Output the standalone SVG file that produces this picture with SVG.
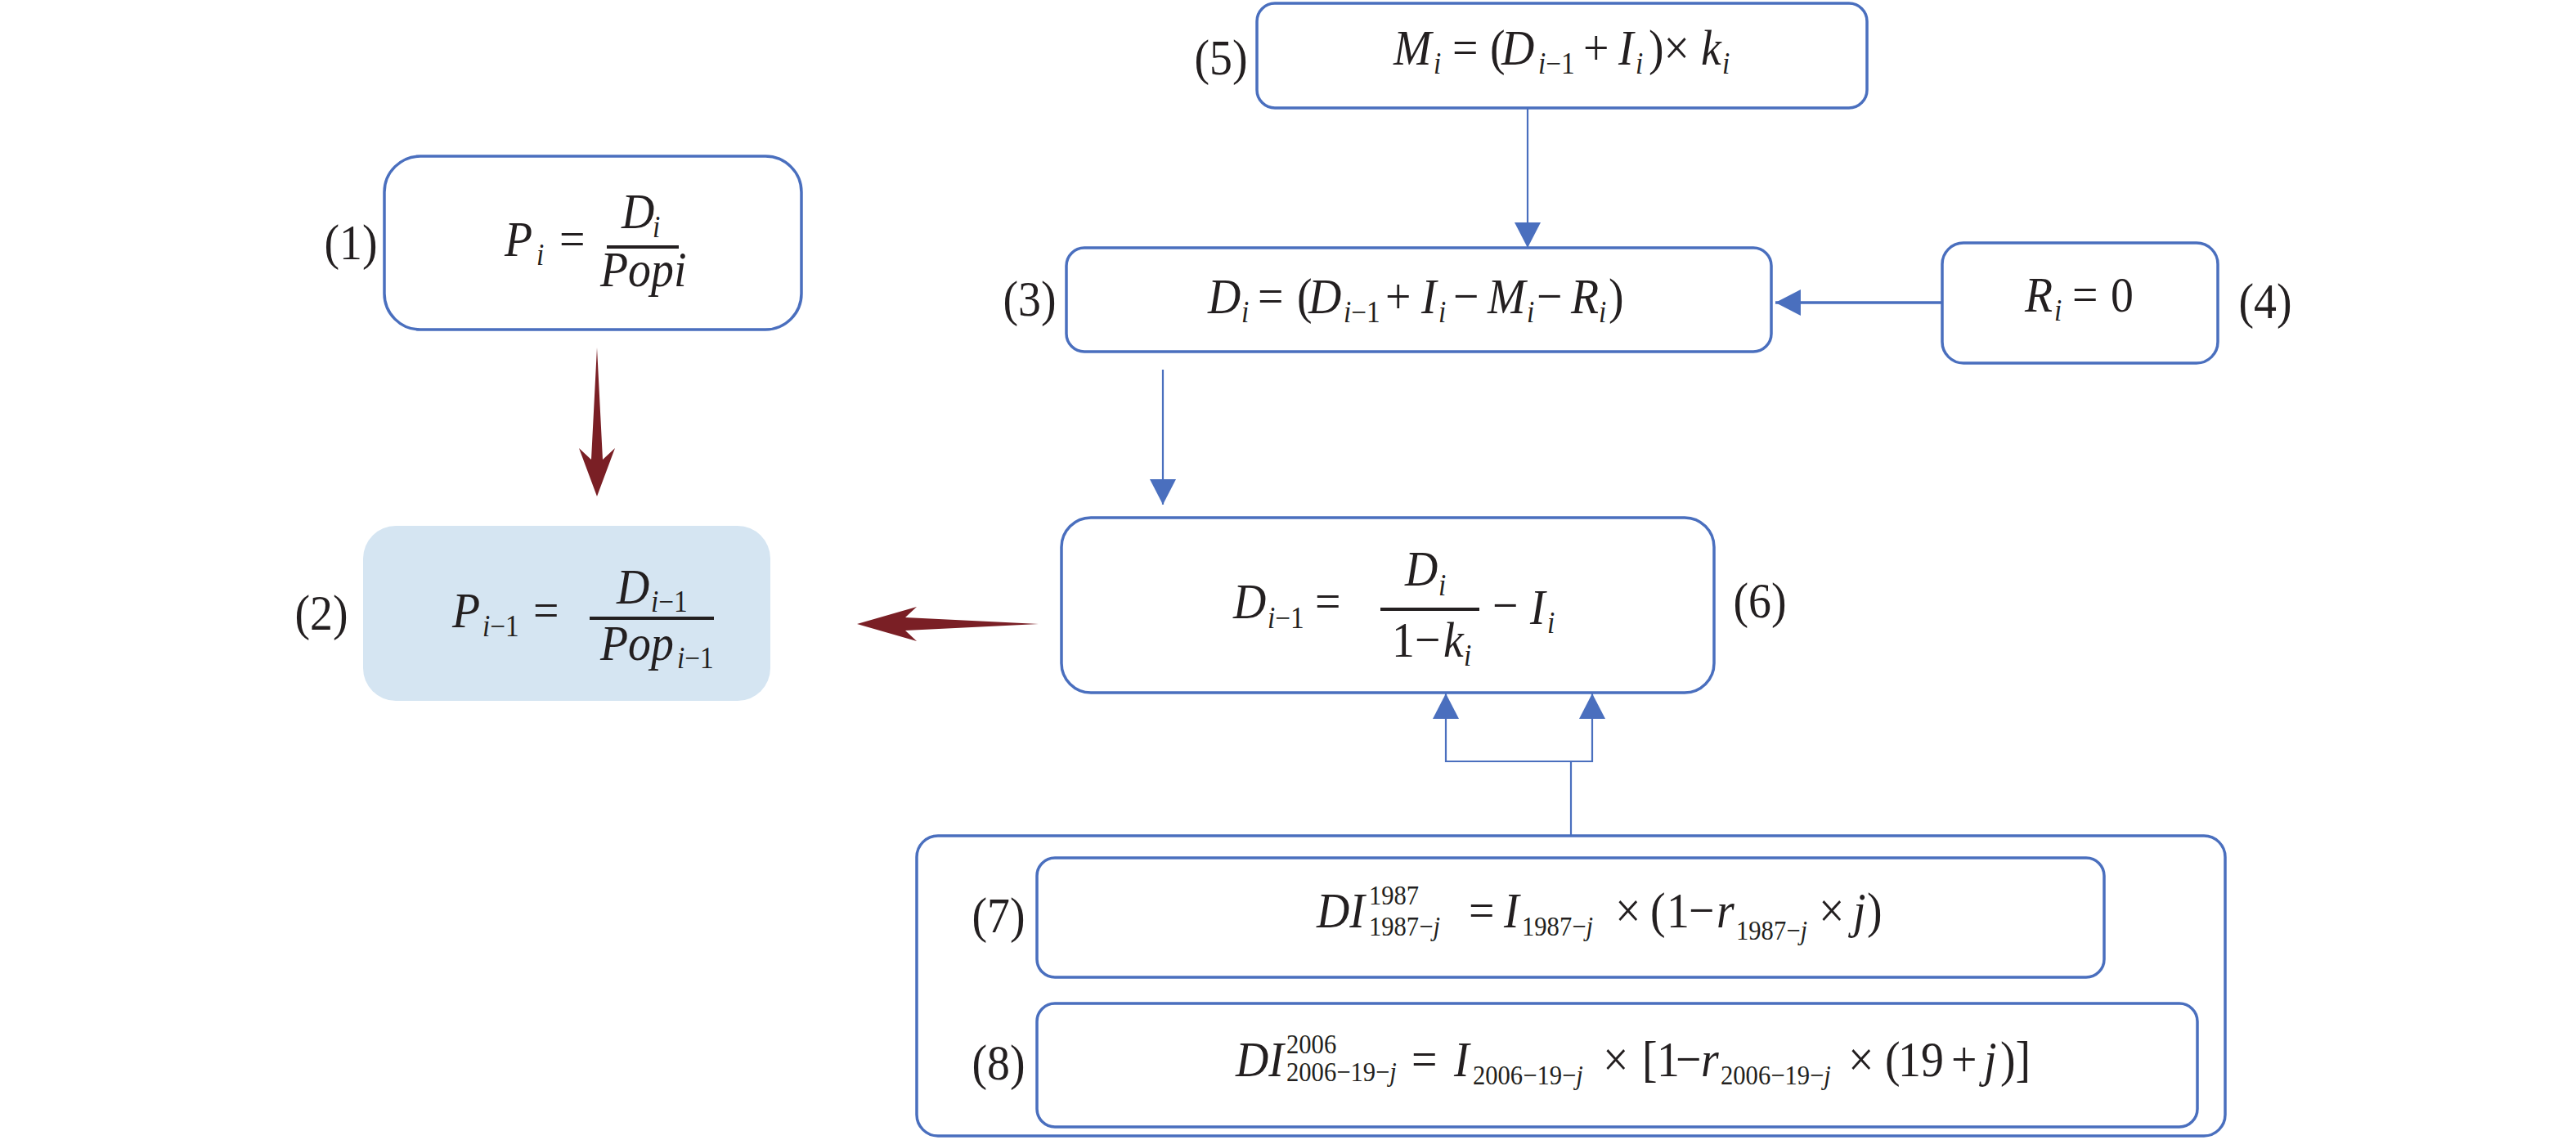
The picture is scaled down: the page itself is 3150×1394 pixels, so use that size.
<svg xmlns="http://www.w3.org/2000/svg" width="3150" height="1394" viewBox="0 0 3150 1394">
<style>
.box{fill:#FFFFFF;stroke:#4A6FBE;stroke-width:3.5}
.fillbox{fill:#D5E5F2;stroke:none}
.t{font-family:"Liberation Serif","Times New Roman",serif;font-size:62px;fill:#231F20}
.lbl{text-anchor:middle}
.i{font-style:italic}
.s{font-size:37px}
.ss{font-size:34px}
.bar{fill:#231F20}
.con{fill:none;stroke:#4A6FBE;stroke-width:2.2}
.con2{fill:none;stroke:#4A6FBE;stroke-width:3.5}
.red{fill:#7A1F25}
</style>
<defs>
<marker id="ah" markerUnits="userSpaceOnUse" markerWidth="32" markerHeight="32" viewBox="0 0 30 31" refX="30" refY="15.5" orient="auto">
<path d="M0,0 L30,15.5 L0,31 Z" fill="#4A6FBE"/>
</marker>
</defs>
<rect width="3150" height="1394" fill="#FFFFFF"/>

<g id="connectors">
<path class="con" d="M1868,132 V303" marker-end="url(#ah)"/>
<path class="con2" d="M2375,370 H2171" marker-end="url(#ah)"/>
<path class="con" d="M1422,452 V617" marker-end="url(#ah)"/>
<path class="con" d="M1921,1022 V931 H1768 V848" marker-end="url(#ah)"/>
<path class="con" d="M1921,931 H1947 V848" marker-end="url(#ah)"/>
<polygon class="red" points="730,425 737,562 752,548 730,607 708,548 723,562"/>
<polygon class="red" points="1048,763 1121,742 1107,755 1270,763 1107,771 1121,784"/>
</g>

<g id="node-1">
<rect class="box" x="470" y="191" width="510" height="212" rx="44"/>
<rect class="bar" x="742" y="300" width="88" height="4"/>
<g transform="scale(0.9 1)">
<text class="t lbl" x="476.7" y="317">(1)</text>
<text class="t"><tspan class="i" x="685.6" y="313">P</tspan><tspan class="i s" x="728.9" y="324">i</tspan><tspan x="760" y="313">=</tspan><tspan class="i" x="844.4" y="279">D</tspan><tspan class="i s" x="886.7" y="290">i</tspan><tspan class="i" x="815.6" y="350">Popi</tspan></text>
</g>
</g>

<g id="node-2">
<rect class="fillbox" x="444" y="643" width="498" height="214" rx="40"/>
<rect class="bar" x="721" y="754" width="152" height="4"/>
<g transform="scale(0.9 1)">
<text class="t lbl" x="436.7" y="770">(2)</text>
<text class="t"><tspan class="i" x="614.4" y="767">P</tspan><tspan class="s" x="655.6" y="778"><tspan class="i">i</tspan>−1</tspan><tspan x="724.4" y="767">=</tspan><tspan class="i" x="837.8" y="738">D</tspan><tspan class="s" x="884.4" y="748"><tspan class="i">i</tspan>−1</tspan><tspan class="i" x="815.6" y="807">Pop</tspan><tspan class="s" x="920" y="817"><tspan class="i">i</tspan>−1</tspan></text>
</g>
</g>

<g id="node-3">
<rect class="box" x="1304" y="303" width="862" height="127" rx="22"/>
<g transform="scale(0.9 1)">
<text class="t lbl" x="1398.9" y="386">(3)</text>
<text class="t"><tspan class="i" x="1641.1" y="383">D</tspan><tspan class="i s" x="1686.7" y="394">i</tspan><tspan x="1708.9" y="383">=</tspan><tspan x="1762.2" y="383">(</tspan><tspan class="i" x="1777.8" y="383">D</tspan><tspan class="s" x="1825.6" y="394"><tspan class="i">i</tspan>−1</tspan><tspan x="1882.2" y="383">+</tspan><tspan class="i" x="1931.1" y="383">I</tspan><tspan class="i s" x="1954.4" y="394">i</tspan><tspan x="1974.4" y="383">−</tspan><tspan class="i" x="2021.1" y="383">M</tspan><tspan class="i s" x="2074.4" y="394">i</tspan><tspan x="2087.8" y="383">−</tspan><tspan class="i" x="2134.4" y="383">R</tspan><tspan class="i s" x="2172.2" y="394">i</tspan><tspan x="2185.6" y="383">)</tspan></text>
</g>
</g>

<g id="node-4">
<rect class="box" x="2375" y="297" width="337" height="147" rx="26"/>
<g transform="scale(0.9 1)">
<text class="t lbl" x="3077.8" y="389">(4)</text>
<text class="t"><tspan class="i" x="2751.1" y="381">R</tspan><tspan class="i s" x="2791.1" y="392">i</tspan><tspan x="2815.6" y="381">=</tspan><tspan x="2867.8" y="381">0</tspan></text>
</g>
</g>

<g id="node-5">
<rect class="box" x="1537" y="4" width="746" height="128" rx="22"/>
<g transform="scale(0.9 1)">
<text class="t lbl" x="1658.9" y="91">(5)</text>
<text class="t"><tspan class="i" x="1893.3" y="79">M</tspan><tspan class="i s" x="1947.8" y="90">i</tspan><tspan x="1973.3" y="79">=</tspan><tspan x="2024.4" y="79">(</tspan><tspan class="i" x="2040" y="79">D</tspan><tspan class="s" x="2090" y="90"><tspan class="i">i</tspan>−1</tspan><tspan x="2151.1" y="79">+</tspan><tspan class="i" x="2198.9" y="79">I</tspan><tspan class="i s" x="2222.2" y="90">i</tspan><tspan x="2240" y="79">)×</tspan><tspan class="i" x="2311.1" y="79">k</tspan><tspan class="i s" x="2340" y="90">i</tspan></text>
</g>
</g>

<g id="node-6">
<rect class="box" x="1298" y="633" width="798" height="214" rx="36"/>
<rect class="bar" x="1688" y="743" width="121" height="4"/>
<g transform="scale(0.9 1)">
<text class="t lbl" x="2391.1" y="755">(6)</text>
<text class="t"><tspan class="i" x="1675.6" y="756">D</tspan><tspan class="s" x="1722.2" y="768"><tspan class="i">i</tspan>−1</tspan><tspan x="1786.7" y="756">=</tspan><tspan class="i" x="1908.9" y="716">D</tspan><tspan class="i s" x="1954.4" y="728">i</tspan><tspan x="1891.1" y="803">1−</tspan><tspan class="i" x="1961.1" y="803">k</tspan><tspan class="i s" x="1988.9" y="814">i</tspan><tspan x="2027.8" y="761">−</tspan><tspan class="i" x="2078.9" y="763">I</tspan><tspan class="i s" x="2102.2" y="774">i</tspan></text>
</g>
</g>

<g id="node-group">
<rect class="box" x="1121" y="1022" width="1600" height="367" rx="26"/>
</g>

<g id="node-7">
<rect class="box" x="1268" y="1049" width="1305" height="146" rx="22"/>
<g transform="scale(0.9 1)">
<text class="t lbl" x="1356.7" y="1140">(7)</text>
<text class="t"><tspan class="i" x="1788.9" y="1134">DI</tspan><tspan class="ss" x="1860" y="1106">1987</tspan><tspan class="ss" x="1860" y="1144">1987−<tspan class="i">j</tspan></tspan><tspan x="1995.6" y="1134">=</tspan><tspan class="i" x="2043.3" y="1134">I</tspan><tspan class="ss" x="2067.8" y="1144">1987−<tspan class="i">j</tspan></tspan><tspan x="2194.4" y="1134">×</tspan><tspan x="2242.2" y="1134">(</tspan><tspan x="2264.4" y="1134">1</tspan><tspan x="2294.4" y="1134">−</tspan><tspan class="i" x="2332.2" y="1134">r</tspan><tspan class="ss" x="2358.9" y="1149">1987−<tspan class="i">j</tspan></tspan><tspan x="2471.1" y="1134">×</tspan><tspan class="i" x="2517.8" y="1134">j</tspan><tspan x="2536.7" y="1134">)</tspan></text>
</g>
</g>

<g id="node-8">
<rect class="box" x="1268" y="1227" width="1419" height="151" rx="22"/>
<g transform="scale(0.9 1)">
<text class="t lbl" x="1356.7" y="1320">(8)</text>
<text class="t"><tspan class="i" x="1678.9" y="1316">DI</tspan><tspan class="ss" x="1747.8" y="1288">2006</tspan><tspan class="ss" x="1747.8" y="1322">2006−19−<tspan class="i">j</tspan></tspan><tspan x="1917.8" y="1316">=</tspan><tspan class="i" x="1975.6" y="1316">I</tspan><tspan class="ss" x="2001.1" y="1326">2006−19−<tspan class="i">j</tspan></tspan><tspan x="2177.8" y="1316">×</tspan><tspan x="2231.1" y="1316">[</tspan><tspan x="2251.1" y="1316">1</tspan><tspan x="2276.7" y="1316">−</tspan><tspan class="i" x="2311.1" y="1316">r</tspan><tspan class="ss" x="2337.8" y="1326">2006−19−<tspan class="i">j</tspan></tspan><tspan x="2511.1" y="1316">×</tspan><tspan x="2561.1" y="1316">(</tspan><tspan x="2578.9" y="1316">19</tspan><tspan x="2651.1" y="1316">+</tspan><tspan class="i" x="2695.6" y="1316">j</tspan><tspan x="2717.8" y="1316">)]</tspan></text>
</g>
</g>
</svg>
